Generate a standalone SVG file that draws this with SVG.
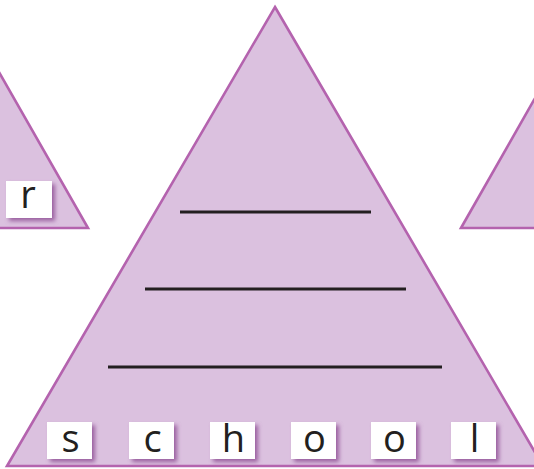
<svg xmlns="http://www.w3.org/2000/svg" width="534" height="469" viewBox="0 0 534 469">
<style>
.tri{fill:#dbc1df;stroke:#b463ae;stroke-width:2.6;stroke-linejoin:miter}
.line{stroke:#231f20;stroke-width:3}
.box{fill:#ffffff;filter:url(#sh)}
.lt{font-family:"Open Sans","Liberation Sans",sans-serif;font-size:38px;fill:#231f20;text-anchor:middle}
</style>
<defs>
<filter id="sh" x="-30%" y="-30%" width="160%" height="160%">
<feDropShadow dx="3" dy="3" stdDeviation="2" flood-color="#8a4690" flood-opacity="0.8"/>
</filter>
</defs>
<g id="left-triangle">
<polygon class="tri" points="-45,-5 88,228 -10,228"/>
<rect class="box" x="6" y="181" width="46" height="37"/>
<text class="lt" x="28" y="208">r</text>
</g>
<g id="right-triangle">
<polygon class="tri" points="461,228 534,100 560,60 560,228"/>
</g>
<g id="main-triangle">
<polygon class="tri" points="275,7 543,466 7,466"/>
</g>
<g id="answer-lines">
<line class="line" x1="180" y1="212" x2="371" y2="212"/>
<line class="line" x1="145" y1="289" x2="406" y2="289"/>
<line class="line" x1="108" y1="367" x2="442" y2="367"/>
</g>
<g id="letter-s"><rect class="box" x="47" y="422" width="45" height="37"/><text class="lt" x="70.5" y="452">s</text></g>
<g id="letter-c"><rect class="box" x="129" y="422" width="45" height="37"/><text class="lt" x="152.5" y="452">c</text></g>
<g id="letter-h"><rect class="box" x="210" y="422" width="45" height="37"/><text class="lt" x="233.5" y="452">h</text></g>
<g id="letter-o1"><rect class="box" x="291" y="422" width="45" height="37"/><text class="lt" x="314.5" y="452">o</text></g>
<g id="letter-o2"><rect class="box" x="371" y="422" width="45" height="37"/><text class="lt" x="394.5" y="452">o</text></g>
<g id="letter-l"><rect class="box" x="451" y="422" width="45" height="37"/><text class="lt" x="474.5" y="452">l</text></g>
</svg>
